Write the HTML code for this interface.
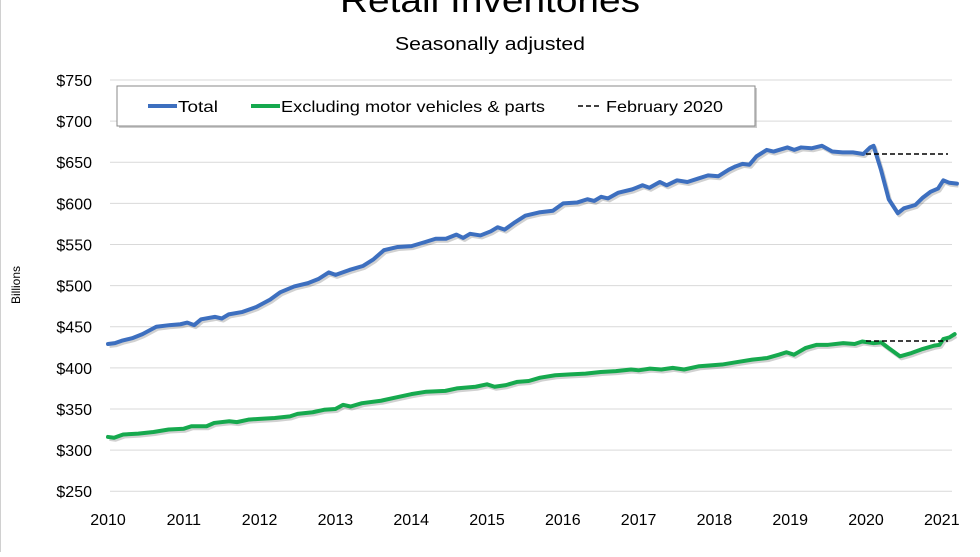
<!DOCTYPE html>
<html><head><style>
body{margin:0;background:#fff;}
svg text{font-family:"Liberation Sans",sans-serif;fill:#000;}
</style></head><body>
<svg id="c" width="980" height="552" xmlns="http://www.w3.org/2000/svg">
<line x1="0.5" y1="0" x2="0.5" y2="552" stroke="#d0d0d0"/>
<text x="490" y="12" font-size="34" text-anchor="middle" textLength="300" lengthAdjust="spacingAndGlyphs">Retail Inventories</text>
<text x="490" y="50" font-size="18" text-anchor="middle" textLength="190" lengthAdjust="spacingAndGlyphs">Seasonally adjusted</text>
<text transform="translate(20,285) rotate(-90)" font-size="12" text-anchor="middle">Billions</text>
<g id="grid"></g>
<g id="series"></g>
<line x1="866" y1="154" x2="948" y2="154" stroke="#000" stroke-width="1.5" stroke-dasharray="5,3"/>
<line x1="866" y1="341" x2="948" y2="341" stroke="#000" stroke-width="1.5" stroke-dasharray="5,3"/>
<rect x="119" y="88" width="638" height="40" fill="#999" opacity="0.5"/>
<rect x="117" y="86" width="638" height="40" fill="#fff" stroke="#888"/>
<line x1="148" y1="106" x2="177" y2="106" stroke="#3d6fbf" stroke-width="4"/>
<text x="178" y="112" font-size="16" textLength="40" lengthAdjust="spacingAndGlyphs">Total</text>
<line x1="251" y1="106" x2="280" y2="106" stroke="#16a94e" stroke-width="4"/>
<text x="281" y="112" font-size="16" textLength="264" lengthAdjust="spacingAndGlyphs">Excluding motor vehicles &amp; parts</text>
<line x1="578" y1="106" x2="602" y2="106" stroke="#000" stroke-width="1.5" stroke-dasharray="5,3"/>
<text x="606" y="112" font-size="16" textLength="117" lengthAdjust="spacingAndGlyphs">February 2020</text>
</svg>
<script>
(function(){
const NS="http://www.w3.org/2000/svg";
const X=t=>108+(t-2010)*75.8, Y=v=>80+(750-v)*0.8224;
const g=document.getElementById('grid'), s=document.getElementById('series');
function el(n,a,p,txt){const e=document.createElementNS(NS,n);for(const k in a)e.setAttribute(k,a[k]);if(txt!==undefined)e.textContent=txt;p.appendChild(e);return e;}
for(let v=250;v<=750;v+=50){const y=Y(v);el('line',{x1:110,y1:y,x2:952,y2:y,stroke:'#d9d9d9','stroke-width':1},g);
el('text',{x:92,y:y+6,'font-size':16,'text-anchor':'end'},g,'$'+v);}
for(let yr=2010;yr<=2021;yr++)el('text',{x:X(yr),y:525,'font-size':16,'text-anchor':'middle'},g,yr);
const A=[[2010,429],[2010.1,430],[2010.2,433],[2010.35,436],[2010.5,441],[2010.7,450],[2010.9,452],[2011.05,453],[2011.15,455],[2011.25,452],[2011.35,459],[2011.55,462],[2011.65,460],[2011.75,465],[2011.95,468],[2012.15,474],[2012.35,483],[2012.5,492],[2012.7,499],[2012.9,503],[2013.05,508],[2013.2,516],[2013.3,513],[2013.5,519],[2013.7,524],[2013.85,532],[2014,543],[2014.2,547],[2014.4,548],[2014.6,553],[2014.75,557],[2014.9,557],[2015.05,562],[2015.15,558],[2015.25,563],[2015.4,561],[2015.55,566],[2015.65,571],[2015.75,568],[2015.9,577],[2016.05,585],[2016.25,589],[2016.45,591],[2016.6,600],[2016.8,601],[2016.95,605],[2017.05,603],[2017.15,608],[2017.25,606],[2017.4,613],[2017.6,617],[2017.75,622],[2017.85,619],[2018,626],[2018.1,622],[2018.25,628],[2018.4,626],[2018.55,630],[2018.7,634],[2018.85,633],[2019,641],[2019.1,645],[2019.2,648],[2019.3,647],[2019.4,657],[2019.55,665],[2019.65,663],[2019.85,668],[2019.95,665],[2020.05,668],[2020.2,667],[2020.35,670],[2020.5,663],[2020.65,662],[2020.8,662],[2020.95,660],[2021.05,668],[2021.1,670]];
const last=A[A.length-1][0];
const tot=A.map(p=>[2010+(p[0]-2010)*(10.1/(last-2010)),p[1]]);
tot.push([2020.2,640],[2020.3,605],[2020.42,588],[2020.5,594],[2020.65,598],[2020.75,607],[2020.85,614],[2020.95,618],[2021.02,628],[2021.1,625],[2021.2,624]);
const gr=[[2010,316],[2010.08,315],[2010.2,319],[2010.4,320],[2010.6,322],[2010.8,325],[2011,326],[2011.1,329],[2011.3,329],[2011.4,333],[2011.6,335],[2011.7,334],[2011.85,337],[2012,338],[2012.2,339],[2012.4,341],[2012.5,344],[2012.7,346],[2012.85,349],[2013,350],[2013.1,355],[2013.2,353],[2013.35,357],[2013.6,360],[2013.8,364],[2014,368],[2014.2,371],[2014.45,372],[2014.6,375],[2014.85,377],[2015,380],[2015.1,377],[2015.25,379],[2015.4,383],[2015.55,384],[2015.7,388],[2015.9,391],[2016.1,392],[2016.3,393],[2016.5,395],[2016.7,396],[2016.9,398],[2017,397],[2017.15,399],[2017.3,398],[2017.45,400],[2017.6,398],[2017.8,402],[2017.95,403],[2018.1,404],[2018.3,407],[2018.5,410],[2018.7,412],[2018.85,416],[2018.95,419],[2019.05,416],[2019.2,424],[2019.35,428],[2019.5,428],[2019.7,430],[2019.85,429],[2019.95,432],[2020.1,430],[2020.2,431],[2020.3,424],[2020.45,414],[2020.6,418],[2020.75,423],[2020.9,427],[2020.97,428],[2021.02,435],[2021.1,437],[2021.17,441]];
function poly(arr,col){
 el('polyline',{points:arr.map(p=>(X(p[0])+1.5)+','+(Y(p[1])+2)).join(' '),fill:'none',stroke:'#000','stroke-opacity':'0.18','stroke-width':4,'stroke-linejoin':'round'},s);
 el('polyline',{points:arr.map(p=>X(p[0])+','+Y(p[1])).join(' '),fill:'none',stroke:col,'stroke-width':4,'stroke-linejoin':'round','stroke-linecap':'round'},s);
}
poly(tot,'#3d6fbf');poly(gr,'#16a94e');
})();
</script>
</body></html>
